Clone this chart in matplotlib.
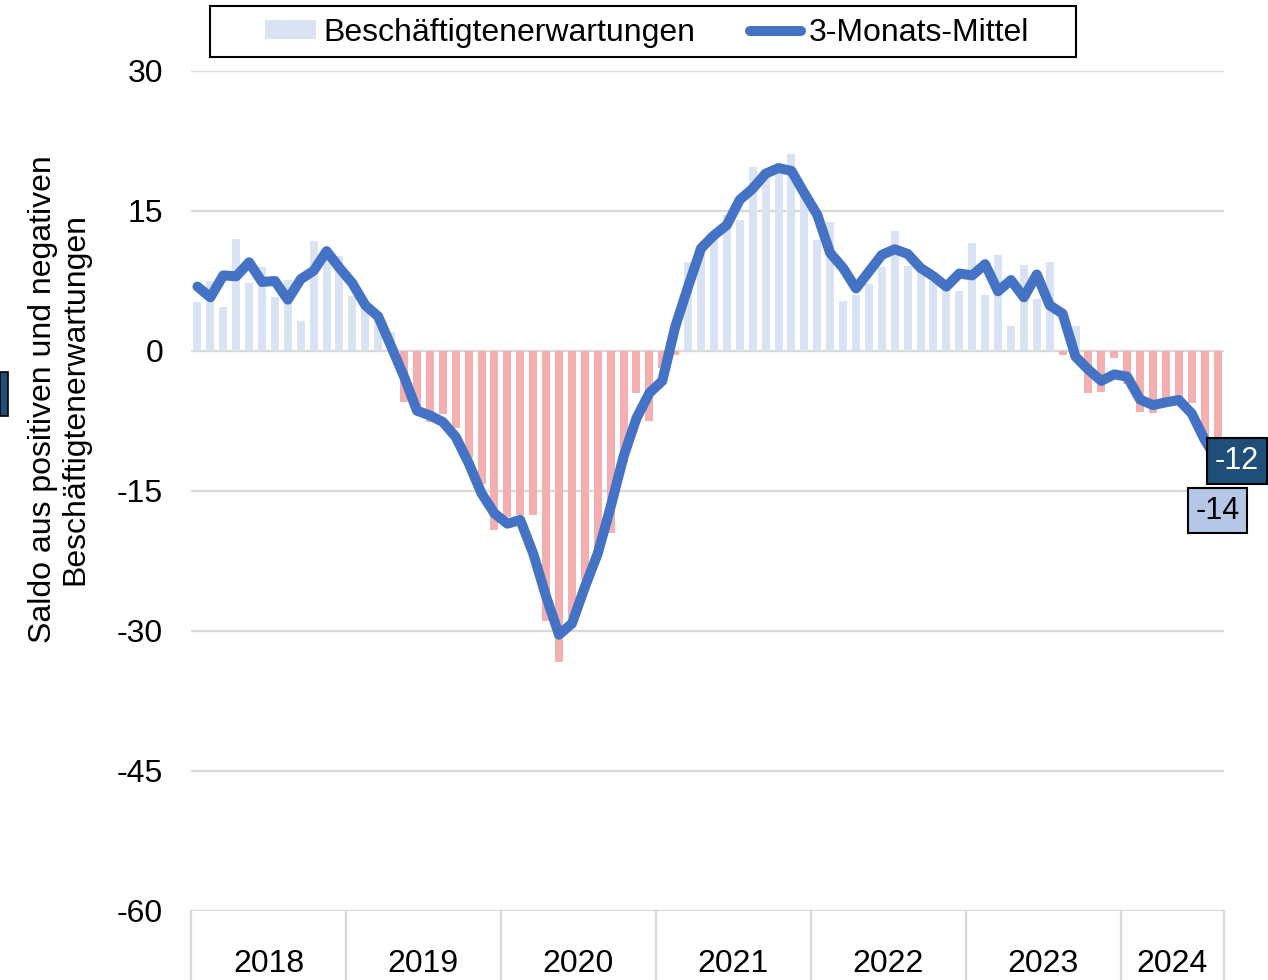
import matplotlib
matplotlib.use('Agg')
import matplotlib.pyplot as plt
import matplotlib.transforms as mtransforms
from matplotlib.patches import Rectangle, Patch
from matplotlib.lines import Line2D
import numpy as np

plt.rcParams['font.family'] = ['Liberation Sans', 'DejaVu Sans']
plt.rcParams['axes.unicode_minus'] = False

# monthly values, Jan 2018 - Aug 2024
years = ['2018', '2019', '2020', '2021', '2022', '2023', '2024']
months_per_year = [12, 12, 12, 12, 12, 12, 8]

erwartungen = [
    5.2, 7.5, 4.7, 12.0, 7.3, 9.0, 5.8, 7.6, 3.2, 11.8, 10.3, 10.2,
    5.9, 5.0, 3.3, 2.0, -5.5, -6.8, -7.6, -6.8, -8.2, -11.5, -14.2, -19.2,
    -17.8, -17.6, -17.6, -28.9, -33.3, -28.5, -24.5, -21.0, -19.5, -12.0, -4.5, -7.5,
    -1.8, -0.4, 9.5, 11.0, 12.0, 14.6, 14.0, 19.7, 18.5, 19.0, 21.1, 17.0,
    11.9, 13.8, 5.4, 6.0, 7.2, 9.0, 12.9, 9.1, 8.5, 7.5, 7.0, 6.4,
    11.6, 6.0, 10.3, 2.7, 9.2, 5.6, 9.5, -0.4, 2.7, -4.5, -4.4, -0.7,
    -3.5, -6.5, -6.6, -5.5, -5.0, -5.6, -9.5, -14.0,
]

mittel = [
    6.9, 5.75, 8.1, 8.0, 9.5, 7.4, 7.5, 5.5, 7.7, 8.6, 10.7, 8.9,
    7.25, 4.9, 3.7, 0.5, -2.75, -6.4, -6.9, -7.6, -9.2, -12.0, -15.25, -17.4,
    -18.5, -18.1, -21.7, -26.3, -30.4, -29.2, -25.3, -21.7, -16.7, -11.3, -7.2, -4.5,
    -3.2, 2.6, 6.9, 11.0, 12.4, 13.5, 16.2, 17.4, 19.0, 19.6, 19.3, 16.9,
    14.6, 10.5, 8.9, 6.7, 8.5, 10.3, 10.9, 10.4, 8.9, 8.0, 6.9, 8.3,
    8.1, 9.3, 6.4, 7.6, 5.75, 8.2, 4.9, 4.0, -0.6, -2.0, -3.2, -2.5,
    -2.75, -5.2, -5.8, -5.5, -5.25, -6.7, -9.5, -11.8,
]

pos_color = '#DAE3F3'
neg_color = '#F4B0B1'
line_color = '#4472C4'
grid_color = '#D9D9D9'
fs = 23

W, H = 1268, 980
fig = plt.figure(figsize=(W / 100, H / 100), dpi=100)
ax = fig.add_axes([191 / W, 1 - 911 / H, (1224 - 191) / W, (911 - 71) / H])

x = np.arange(len(erwartungen))
colors = [pos_color if v >= 0 else neg_color for v in erwartungen]
ax.bar(x, erwartungen, width=0.62, color=colors, zorder=2)
ax.plot(x, mittel, color=line_color, lw=7.2, solid_capstyle='round',
        solid_joinstyle='round', zorder=3)

ax.set_xlim(-0.5, len(x) - 0.5)
ax.set_ylim(-60, 30)
ax.set_yticks(range(-60, 31, 15))
ax.set_xticks([])
ax.grid(axis='y', color=grid_color, lw=1.6, zorder=0)
ax.set_axisbelow(True)
for s in ax.spines.values():
    s.set_visible(False)
ax.tick_params(axis='y', length=0, pad=20, labelsize=fs)

# year groups below the axis
trans = mtransforms.blended_transform_factory(ax.transData, ax.transAxes)
bounds = np.concatenate([[0], np.cumsum(months_per_year)]) - 0.5
for b in bounds:
    ax.plot([b, b], [0, -0.1], color=grid_color, lw=1.6, transform=trans, clip_on=False)
for yr, lo, hi in zip(years, bounds[:-1], bounds[1:]):
    ax.text((lo + hi) / 2, -0.063, yr, transform=trans, ha='center', va='center', fontsize=fs)

# end labels
ax.annotate(f'{round(mittel[-1])}', xy=(x[-1], mittel[-1]), xytext=(-2, 0),
            textcoords='offset points', ha='left', va='center', fontsize=22, color='white',
            bbox=dict(boxstyle='square,pad=0.25', fc='#1F4E79', ec='black', lw=1.5), zorder=5)
ax.annotate(f'{round(erwartungen[-1])}', xy=(x[-1], erwartungen[-1]), xytext=(0, -21),
            textcoords='offset points', ha='center', va='center', fontsize=22, color='black',
            bbox=dict(boxstyle='square,pad=0.25', fc='#B4C7E7', ec='black', lw=1.5), zorder=5)

# y label
fig.text(59 / W, 1 - 399 / H, 'Saldo aus positiven und negativen\nBeschäftigtenerwartungen',
         rotation=90, ha='center', va='center', multialignment='center', fontsize=fs,
         linespacing=1.1)

# legend
handles = [Patch(facecolor=pos_color, edgecolor='none'),
           Line2D([0], [0], color=line_color, lw=7.2, solid_capstyle='round')]
fig.legend(handles, ['Beschäftigtenerwartungen', '3-Monats-Mittel'], ncol=2,
           loc='center', bbox_to_anchor=(647 / W, 1 - 33 / H), frameon=False,
           fontsize=fs, handlelength=1.6, handleheight=0.55, handletextpad=0.25,
           columnspacing=1.7)
fig.patches.append(Rectangle((210 / W, 1 - 57 / H), (1076 - 210) / W, 51 / H,
                             transform=fig.transFigure, fill=False, ec='black', lw=1.5))

# cut-off box at the left edge
fig.patches.append(Rectangle((0, 1 - 416 / H), 8 / W, 44 / H, transform=fig.transFigure,
                             fc='#1F4E79', ec='black', lw=1.2))

fig.savefig('out.png', dpi=100)
